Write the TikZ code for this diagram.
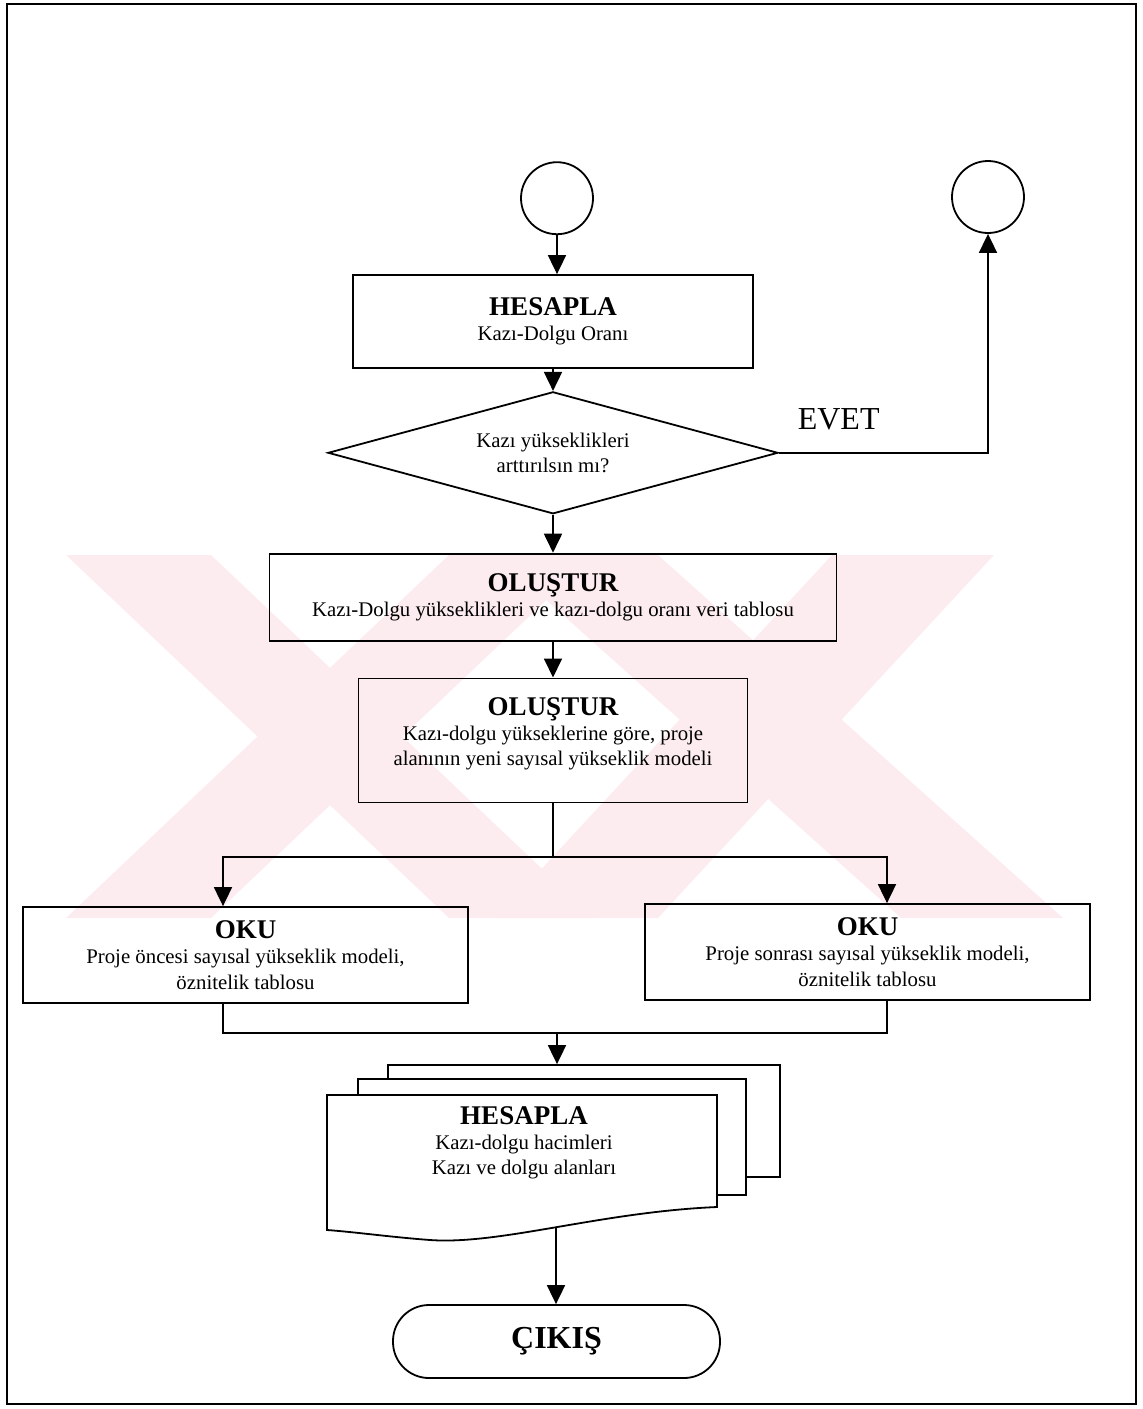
\documentclass[tikz,border=0pt]{standalone}
\usepackage{fontspec}
\setmainfont{Liberation Serif}
\usepackage{tikz}
\usetikzlibrary{arrows.meta,positioning,shapes.geometric}
\usepackage{xcolor}
\definecolor{filigran}{RGB}{253,236,239}
\newcommand{\baslik}[1]{{\fontsize{13.5}{15.5}\selectfont\bfseries #1}}

\begin{document}
\begin{tikzpicture}[
  x=0.5pt, y=-0.5pt,
  every node/.style={font=\fontsize{10.4}{12.6}\selectfont, align=center},
  box/.style={draw, line width=0.9pt, minimum width=200pt, minimum height=46.5pt},
  decision/.style={draw, line width=0.9pt, diamond, aspect=3.7, minimum width=225pt, minimum height=61pt, inner sep=0pt},
  connector/.style={draw, line width=0.9pt, circle, minimum size=36pt, inner sep=0pt},
  terminal/.style={draw, line width=0.9pt, rounded corners=18pt, minimum width=163.5pt, minimum height=36.5pt},
  sheet/.style={draw, line width=0.9pt, fill=white},
  line/.style={line width=0.9pt},
  arrow/.style={-{Triangle[length=9.5pt,width=9pt]}, line width=0.9pt}
]
  \useasboundingbox (0,0) rectangle (1142,1409);

  % Watermark
  \fill [filigran] (66,555) -- (211,555) -- (594,918) -- (449,918) -- cycle;
  \fill [filigran] (449,555) -- (594,555) -- (211,918) -- (66,918) -- cycle;
  \fill [filigran] (496,555) -- (658,555) -- (1063,918) -- (901,918) -- cycle;
  \fill [filigran] (832,555) -- (994,555) -- (658,918) -- (496,918) -- cycle;

  % Frame
  \draw [line width=1.4pt] (7,4) rectangle (1136,1404);

  % Nodes
  \node (hesapla) [box] at (553,321.5) {\baslik{HESAPLA}\\Kazı-Dolgu Oranı};
  \node (start) [connector, above=19.5pt of hesapla, xshift=2pt] {};
  \node (karar) [decision, below=11pt of hesapla] {Kazı yükseklikleri\\arttırılsın mı?};
  \node (son) [connector] at (988,197) {};
  \node (olustur1) [box, minimum width=283.5pt, minimum height=43.5pt, below=19pt of karar]
    {\baslik{OLUŞTUR}\\Kazı-Dolgu yükseklikleri ve kazı-dolgu oranı veri tablosu};
  \node (olustur2) [box, minimum width=194.5pt, minimum height=62pt, below=18pt of olustur1]
    {\baslik{OLUŞTUR}\\Kazı-dolgu yükseklerine göre, proje\\alanının yeni sayısal yükseklik modeli\\[-3.6pt]};
  \coordinate (dal) at ([yshift=-27pt]olustur2.south);

  \node (oku1) [box, minimum width=222.5pt, minimum height=48pt] at (245.5,955)
    {\baslik{OKU}\\Proje öncesi sayısal yükseklik modeli,\\öznitelik tablosu};
  \node (oku2) [box, minimum width=222.5pt, minimum height=48pt] at (867.5,952)
    {\baslik{OKU}\\Proje sonrası sayısal yükseklik modeli,\\öznitelik tablosu};
  \coordinate (birlesim) at (557,1033);

  \node (arka) [sheet, minimum width=196pt, minimum height=56pt] at (584,1121) {};
  \node (orta) [sheet, minimum width=194pt, minimum height=58pt] at (552,1137) {};
  \draw [sheet] (327,1095) -- (717,1095) -- (717,1207)
    .. controls (600,1212) and (500,1245) .. (430,1240)
    .. controls (390,1237) and (355,1232) .. (327,1230) -- cycle;
  \node (hacim) at (524,1143) {\baslik{HESAPLA}\\Kazı-dolgu hacimleri\\Kazı ve dolgu alanları};
  \coordinate (dalga) at (556,1227);

  \node (cikis) [terminal] at (556.5,1341.5) {\fontsize{16}{18}\selectfont\bfseries ÇIKIŞ};

  % Paths
  \draw [arrow] (start) -- (start |- hesapla.north);
  \draw [arrow] (hesapla) -- (karar);
  \draw [arrow] (karar.east) -| node (evet) [pos=0.143, above=7.5pt, font=\fontsize{16}{18}\selectfont] {EVET} (son);
  \draw [arrow] (karar) -- (olustur1);
  \draw [arrow] (olustur1) -- (olustur2);
  \draw [line] (olustur2) -- (dal);
  \draw [arrow] (dal) -| ([xshift=-11.25pt]oku1.north);
  \draw [arrow] (dal) -| ([xshift=9.75pt]oku2.north);
  \draw [line] ([xshift=-11.25pt]oku1.south) |- (birlesim) -| ([xshift=9.75pt]oku2.south);
  \draw [arrow] (birlesim) -- (birlesim |- arka.north);
  \draw [arrow] (dalga) -- (dalga |- cikis.north);
\end{tikzpicture}
\end{document}
